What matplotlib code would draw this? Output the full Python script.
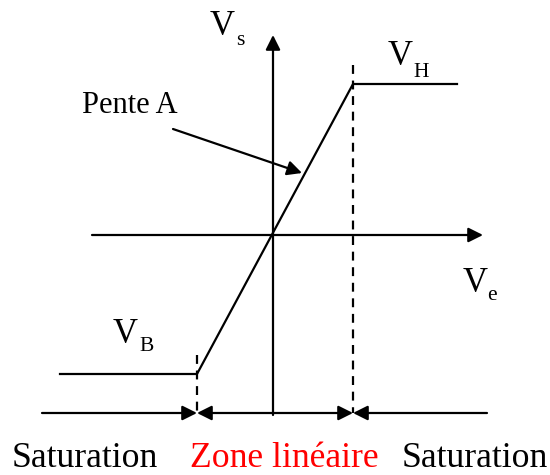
import matplotlib.pyplot as plt
from matplotlib.patches import FancyArrowPatch

# transfer characteristic (origin at the axes crossing)
ve_points = [-213, -76, 80, 184]
vs_points = [-139, -139, 151, 151]
ve_low = -76    # start of linear zone
ve_high = 80    # end of linear zone
zone_labels = ["Saturation", "Zone linéaire", "Saturation"]
zone_colors = ["black", "red", "black"]

plt.rcParams['font.family'] = ['Liberation Serif', 'DejaVu Serif']

fig = plt.figure(figsize=(5.5, 4.75), dpi=100)
ax = fig.add_axes([0, 0, 1, 1])
ax.set_xlim(-273, 277)
ax.set_ylim(-240, 235)
ax.axis('off')

lw = 1.6


def arrow(x0, y0, x1, y1, style='-|>'):
    a = FancyArrowPatch((x0, y0), (x1, y1), arrowstyle=style, mutation_scale=22,
                        color='black', lw=lw, shrinkA=0, shrinkB=0)
    ax.add_patch(a)


# axes
arrow(-181, 0, 210, 0)
arrow(0, -180, 0, 200)

# curve
ax.plot(ve_points, vs_points, color='black', lw=lw, solid_joinstyle='miter')

# dashed limits
ax.plot([ve_low, ve_low], [-120, -178], color='black', lw=lw, ls=(0, (4, 3)))
ax.plot([ve_high, ve_high], [170, -178], color='black', lw=lw, ls=(0, (4, 3)))

# zone arrows
arrow(-231, -178, ve_low, -178)
arrow(ve_low, -178, ve_high, -178, style='<|-|>')
arrow(214, -178, ve_high, -178)

# slope annotation
arrow(-100, 106, 29, 62)
ax.text(-191, 122, "Pente A", fontsize=22, ha='left', va='baseline')

# labels
big = 25
small = 15.5
ax.text(-63, 200, "V", fontsize=big, ha='left', va='baseline')
ax.text(-37, 190, "s", fontsize=small, ha='left', va='baseline')
ax.text(115, 170, "V", fontsize=big, ha='left', va='baseline')
ax.text(140, 158, "H", fontsize=small, ha='left', va='baseline')
ax.text(190, -57, "V", fontsize=big, ha='left', va='baseline')
ax.text(214, -65, "e", fontsize=small, ha='left', va='baseline')
ax.text(-160, -108, "V", fontsize=big, ha='left', va='baseline')
ax.text(-134, -116, "B", fontsize=small, ha='left', va='baseline')

zone_x = [-261, -83, 129]
for x, lab, c in zip(zone_x, zone_labels, zone_colors):
    ax.text(x, -232, lab, fontsize=25.7, color=c, ha='left', va='baseline')

fig.savefig("out.png", dpi=100)
